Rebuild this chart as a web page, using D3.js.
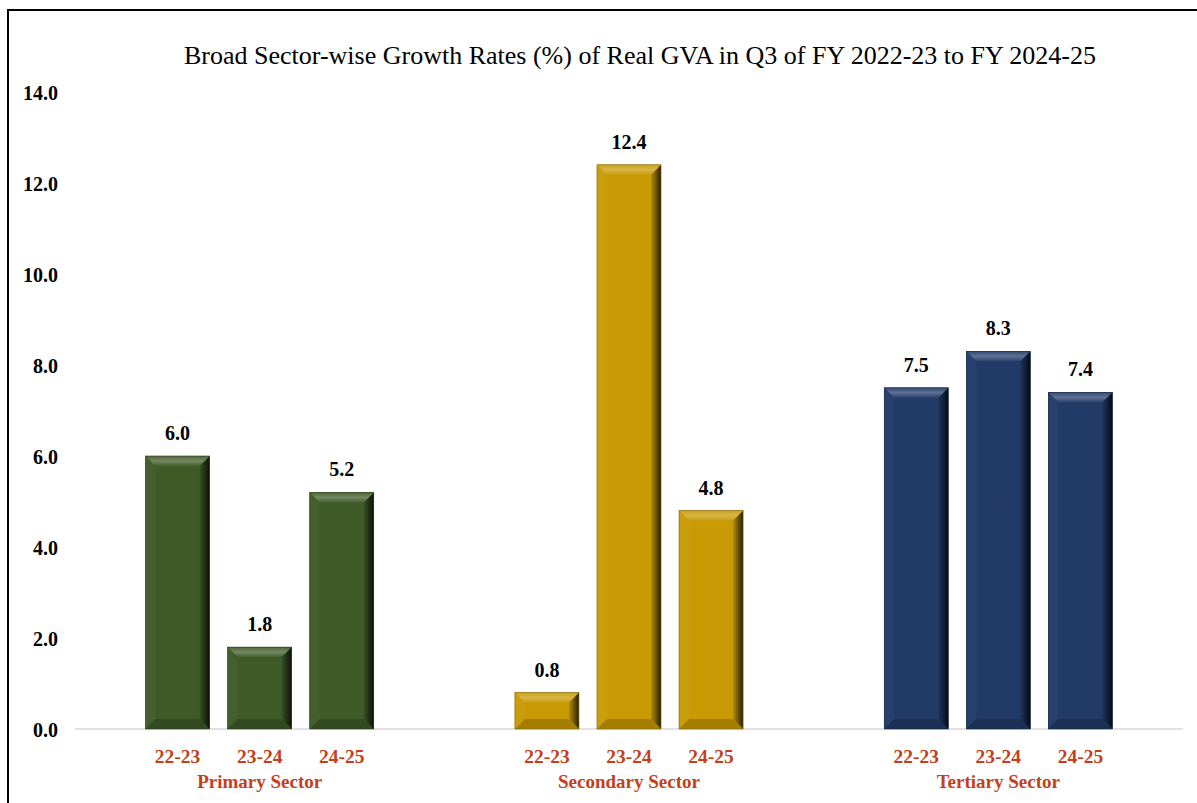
<!DOCTYPE html>
<html><head><meta charset="utf-8">
<script src="https://cdn.jsdelivr.net/npm/d3@7"></script>
<style>body{margin:0;background:#fff;}svg{display:block;}</style>
</head><body>
<svg id="chart" width="1197" height="803"></svg>
<script>
const sectors = ["Primary Sector", "Secondary Sector", "Tertiary Sector"];
const years = ["22-23", "23-24", "24-25"];
const primaryValues = [6.0, 1.8, 5.2];
const secondaryValues = [0.8, 12.4, 4.8];
const tertiaryValues = [7.5, 8.3, 7.4];
const sectorColors = ["#3d5a27", "#c89a04", "#213a68"];
const yTicks = [0, 2, 4, 6, 8, 10, 12, 14];
const titleText = "Broad Sector-wise Growth Rates (%) of Real GVA in Q3 of FY 2022-23 to FY 2024-25";

const seriesBySector = [primaryValues, secondaryValues, tertiaryValues];
const svg = d3.select("#chart");
const serif = "'Liberation Serif', 'DejaVu Serif', serif";

// frame
svg.append("rect").attr("x", 8).attr("y", 10).attr("width", 1200).attr("height", 800)
  .attr("fill", "none").attr("stroke", "#000").attr("stroke-width", 2);

const x0 = d3.scaleBand().domain(sectors).range([75, 1183]).padding(0);
const x1 = d3.scaleBand().domain(years).range([0, x0.bandwidth()]).paddingInner(0.22).paddingOuter(0.86);
const y = d3.scaleLinear().domain([0, 14]).range([729, 92]);

// title
svg.append("text").attr("x", 640).attr("y", 64).attr("text-anchor", "middle")
  .attr("font-family", serif).attr("font-size", 26).attr("fill", "#000").text(titleText);

// y axis labels
const yAxis = d3.axisLeft(y).tickValues(yTicks).tickFormat(d3.format(".1f")).tickSize(0).tickPadding(0);
const ya = svg.append("g").attr("transform", "translate(58,0)").call(yAxis);
ya.select(".domain").remove();
ya.selectAll("text").attr("font-family", serif).attr("font-size", 20).attr("font-weight", "bold").attr("fill", "#000").attr("dy", "0.35em");

// baseline
svg.append("line").attr("x1", 75).attr("x2", 1183).attr("y1", y(0)).attr("y2", y(0))
  .attr("stroke", "#d9d9d9").attr("stroke-width", 1.5);

function shade(c, k) { return d3.interpolateRgb(c, k > 0 ? "#fff" : "#000")(Math.abs(k)); }

const defs = svg.append("defs");
sectorColors.forEach((c, i) => {
  const gR = defs.append("linearGradient").attr("id", "gr" + i).attr("x1", 0).attr("x2", 1).attr("y1", 0).attr("y2", 0);
  gR.append("stop").attr("offset", 0).attr("stop-color", shade(c, -0.1));
  gR.append("stop").attr("offset", 1).attr("stop-color", shade(c, -0.8));
  const gT = defs.append("linearGradient").attr("id", "gt" + i).attr("x1", 0).attr("x2", 0).attr("y1", 0).attr("y2", 1);
  gT.append("stop").attr("offset", 0).attr("stop-color", shade(c, 0.08));
  gT.append("stop").attr("offset", 0.5).attr("stop-color", shade(c, 0.28));
  gT.append("stop").attr("offset", 1).attr("stop-color", shade(c, 0.04));
});

const groups = svg.append("g").selectAll("g").data(sectors).join("g")
  .attr("transform", d => `translate(${x0(d)},0)`);

groups.each(function(sector, si) {
  const g = d3.select(this);
  const vals = seriesBySector[si];
  const c = sectorColors[si];
  years.forEach((yr, j) => {
    const v = vals[j];
    const bx = x1(yr), bw = x1.bandwidth();
    const top = y(v), bot = y(0);
    const h = bot - top;
    const b = Math.min(10, h / 2.2);
    const bar = g.append("g");
    bar.append("rect").attr("x", bx).attr("y", top).attr("width", bw).attr("height", h).attr("fill", c);
    bar.append("polygon").attr("points", [[bx, top], [bx + b, top + b], [bx + b, bot - b], [bx, bot]].join(" "))
      .attr("fill", shade(c, 0.03));
    bar.append("polygon").attr("points", [[bx + bw, top], [bx + bw - b, top + b], [bx + bw - b, bot - b], [bx + bw, bot]].join(" "))
      .attr("fill", `url(#gr${si})`);
    bar.append("polygon").attr("points", [[bx, bot], [bx + b, bot - b], [bx + bw - b, bot - b], [bx + bw, bot]].join(" "))
      .attr("fill", shade(c, -0.18));
    bar.append("polygon").attr("points", [[bx, top], [bx + b, top + b], [bx + bw - b, top + b], [bx + bw, top]].join(" "))
      .attr("fill", `url(#gt${si})`);
    bar.append("rect").attr("x", bx).attr("y", top).attr("width", bw).attr("height", h)
      .attr("fill", "none").attr("stroke", shade(c, -0.35)).attr("stroke-width", 0.6);
    g.append("text").attr("x", bx + bw / 2).attr("y", top - 16).attr("text-anchor", "middle")
      .attr("font-family", serif).attr("font-size", 20).attr("font-weight", "bold").attr("fill", "#000")
      .text(d3.format(".1f")(v));
    g.append("text").attr("x", bx + bw / 2).attr("y", 763).attr("text-anchor", "middle")
      .attr("font-family", serif).attr("font-size", 19.5).attr("font-weight", "bold").attr("fill", "#c4401b")
      .text(yr);
  });
  g.append("text").attr("x", x0.bandwidth() / 2).attr("y", 788).attr("text-anchor", "middle")
    .attr("font-family", serif).attr("font-size", 19).attr("font-weight", "bold").attr("fill", "#c4401b")
    .text(sector);
});
</script>
</body></html>
